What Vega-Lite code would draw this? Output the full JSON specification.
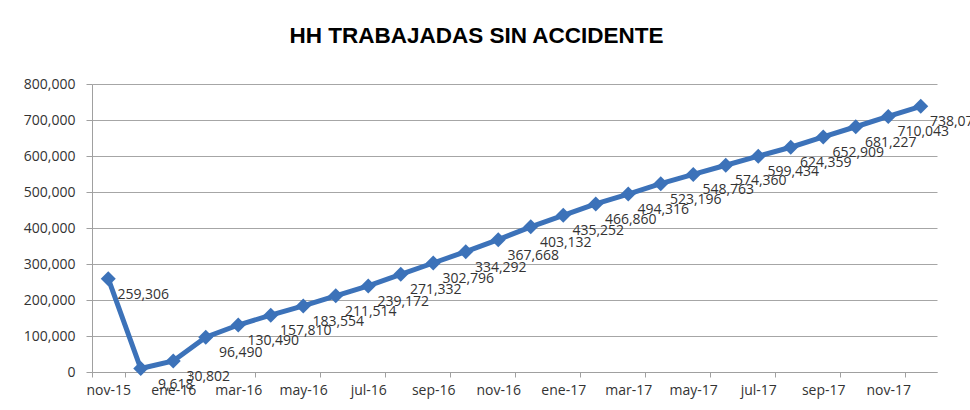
{
  "$schema": "https://vega.github.io/schema/vega-lite/v6.json",
  "autosize": {"type": "none"},
  "width": 845,
  "height": 288,
  "padding": {"left": 92, "top": 84, "right": 33, "bottom": 38},
  "background": "white",
  "title": {
    "text": "HH TRABAJADAS SIN ACCIDENTE",
    "anchor": "middle",
    "dx": -38,
    "offset": 12,
    "baseline": "alphabetic",
    "font": "Liberation Sans",
    "fontSize": 22.5,
    "fontWeight": "bold",
    "color": "#000000"
  },
  "config": {
    "view": {"stroke": null},
    "axis": {
      "labelFont": "Open Sans",
      "labelFontSize": 14,
      "labelColor": "#333333",
      "domainColor": "#a0a0a0",
      "tickColor": "#a0a0a0",
      "gridColor": "#a6a6a6",
      "titleFontSize": 0
    }
  },
  "data": {
    "values": [
      {"mes": "nov-15", "hh": 259306},
      {"mes": "dic-15", "hh": 9618},
      {"mes": "ene-16", "hh": 30802},
      {"mes": "feb-16", "hh": 96490},
      {"mes": "mar-16", "hh": 130490},
      {"mes": "abr-16", "hh": 157810},
      {"mes": "may-16", "hh": 183554},
      {"mes": "jun-16", "hh": 211514},
      {"mes": "jul-16", "hh": 239172},
      {"mes": "ago-16", "hh": 271332},
      {"mes": "sep-16", "hh": 302796},
      {"mes": "oct-16", "hh": 334292},
      {"mes": "nov-16", "hh": 367668},
      {"mes": "dic-16", "hh": 403132},
      {"mes": "ene-17", "hh": 435252},
      {"mes": "feb-17", "hh": 466860},
      {"mes": "mar-17", "hh": 494316},
      {"mes": "abr-17", "hh": 523196},
      {"mes": "may-17", "hh": 548763},
      {"mes": "jun-17", "hh": 574360},
      {"mes": "jul-17", "hh": 599434},
      {"mes": "ago-17", "hh": 624359},
      {"mes": "sep-17", "hh": 652909},
      {"mes": "oct-17", "hh": 681227},
      {"mes": "nov-17", "hh": 710043},
      {"mes": "dic-17", "hh": 738074}
    ]
  },
  "encoding": {
    "x": {
      "field": "mes",
      "type": "ordinal",
      "sort": null,
      "scale": {"type": "band", "paddingInner": 0, "paddingOuter": 0},
      "axis": {
        "title": null,
        "labelAngle": 0,
        "values": ["nov-15", "ene-16", "mar-16", "may-16", "jul-16", "sep-16", "nov-16", "ene-17", "mar-17", "may-17", "jul-17", "sep-17", "nov-17"],
        "tickBand": "extent",
        "tickSize": 5,
        "labelPadding": 6,
        "grid": false
      }
    },
    "y": {
      "field": "hh",
      "type": "quantitative",
      "scale": {"domain": [0, 800000], "nice": false},
      "axis": {
        "title": null,
        "values": [0, 100000, 200000, 300000, 400000, 500000, 600000, 700000, 800000],
        "format": ",d",
        "tickSize": 6,
        "labelPadding": 11,
        "grid": true
      }
    }
  },
  "layer": [
    {
      "mark": {"type": "line", "color": "#3c72b9", "strokeWidth": 5}
    },
    {
      "mark": {"type": "point", "shape": "diamond", "filled": true, "size": 225, "color": "#3c72b9", "opacity": 1}
    },
    {
      "mark": {"type": "text", "dx": 35, "dy": 16, "baseline": "middle", "align": "center", "font": "Open Sans", "fontSize": 14, "color": "#333333"},
      "encoding": {
        "text": {"field": "hh", "type": "quantitative", "format": ",d"}
      }
    }
  ]
}
